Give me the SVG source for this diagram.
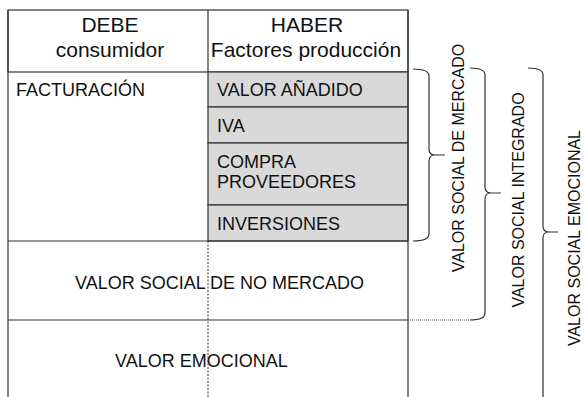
<svg xmlns="http://www.w3.org/2000/svg" width="585" height="397" viewBox="0 0 585 397">
<style>
text{font-family:"Liberation Sans",Arial,Helvetica,sans-serif;fill:#111}
.h{font-size:21px;text-anchor:middle}
.b{font-size:18px}
.v{font-size:16px;text-anchor:middle}
.ln{stroke:#333;stroke-width:1.2;fill:none}
.dash{stroke:#333;stroke-width:1;stroke-dasharray:2 1.5;fill:none}
.dot{stroke:#555;stroke-width:1.2;stroke-dasharray:1 1;fill:none}
.cell{fill:#d9d9d9;stroke:#333;stroke-width:1.2}
</style>
<rect width="585" height="397" fill="#fff"/>
<g id="header">
<rect x="8" y="10" width="400" height="62" fill="#fff" stroke="#333" stroke-width="1.2"/>
<line class="ln" x1="208" y1="10" x2="208" y2="72"/>
<text class="h" x="110" y="32">DEBE</text>
<text class="h" x="110" y="57">consumidor</text>
<text class="h" x="307" y="32">HABER</text>
<text class="h" x="306" y="57">Factores producción</text>
</g>
<g id="facturacion">
<text class="b" x="16" y="96">FACTURACIÓN</text>
</g>
<g id="valor-anadido">
<rect class="cell" x="208" y="72" width="200" height="35"/>
<text class="b" x="217" y="96">VALOR AÑADIDO</text>
</g>
<g id="iva">
<rect class="cell" x="208" y="107" width="200" height="36"/>
<text class="b" x="217" y="132">IVA</text>
</g>
<g id="compra">
<rect class="cell" x="208" y="143" width="200" height="62"/>
<text class="b" x="217" y="168">COMPRA</text>
<text class="b" x="217" y="188">PROVEEDORES</text>
</g>
<g id="inversiones">
<rect class="cell" x="208" y="205" width="200" height="36"/>
<text class="b" x="217" y="230">INVERSIONES</text>
</g>
<g id="no-mercado">
<text class="b" x="75" y="289">VALOR SOCIAL DE NO MERCADO</text>
</g>
<g id="emocional">
<text class="b" x="115" y="367">VALOR EMOCIONAL</text>
</g>
<g id="frame">
<line class="ln" x1="8" y1="10" x2="8" y2="397"/>
<line class="ln" x1="408" y1="10" x2="408" y2="397"/>
<line class="ln" x1="8" y1="241" x2="408" y2="241"/>
<line class="ln" x1="8" y1="320" x2="408" y2="320"/>
<line class="dash" x1="208" y1="241" x2="208" y2="397"/>
</g>
<g id="connectors">
<path class="ln" d="M413,69 Q429,69 429,76 V149 Q429,155 435,155 H445 M435,155 Q429,155 429,161 V234 Q429,241 413,241"/>
<path class="ln" d="M470,68 Q485,68 485,75 V187 Q485,193 491,193 H501 M491,193 Q485,193 485,199 V313 Q485,320 470,320"/>
<path class="dot" d="M408,320 H470"/>
<path class="ln" d="M528,68 Q543,68 543,75 V226 Q543,232 549,232 H558 M549,232 Q543,232 543,238 V397"/>
</g>
<g id="labels">
<text class="v" transform="translate(464,158) rotate(-90)">VALOR SOCIAL DE MERCADO</text>
<text class="v" transform="translate(524,200) rotate(-90)">VALOR SOCIAL INTEGRADO</text>
<text class="v" transform="translate(580,238) rotate(-90)">VALOR SOCIAL EMOCIONAL</text>
</g>
</svg>
